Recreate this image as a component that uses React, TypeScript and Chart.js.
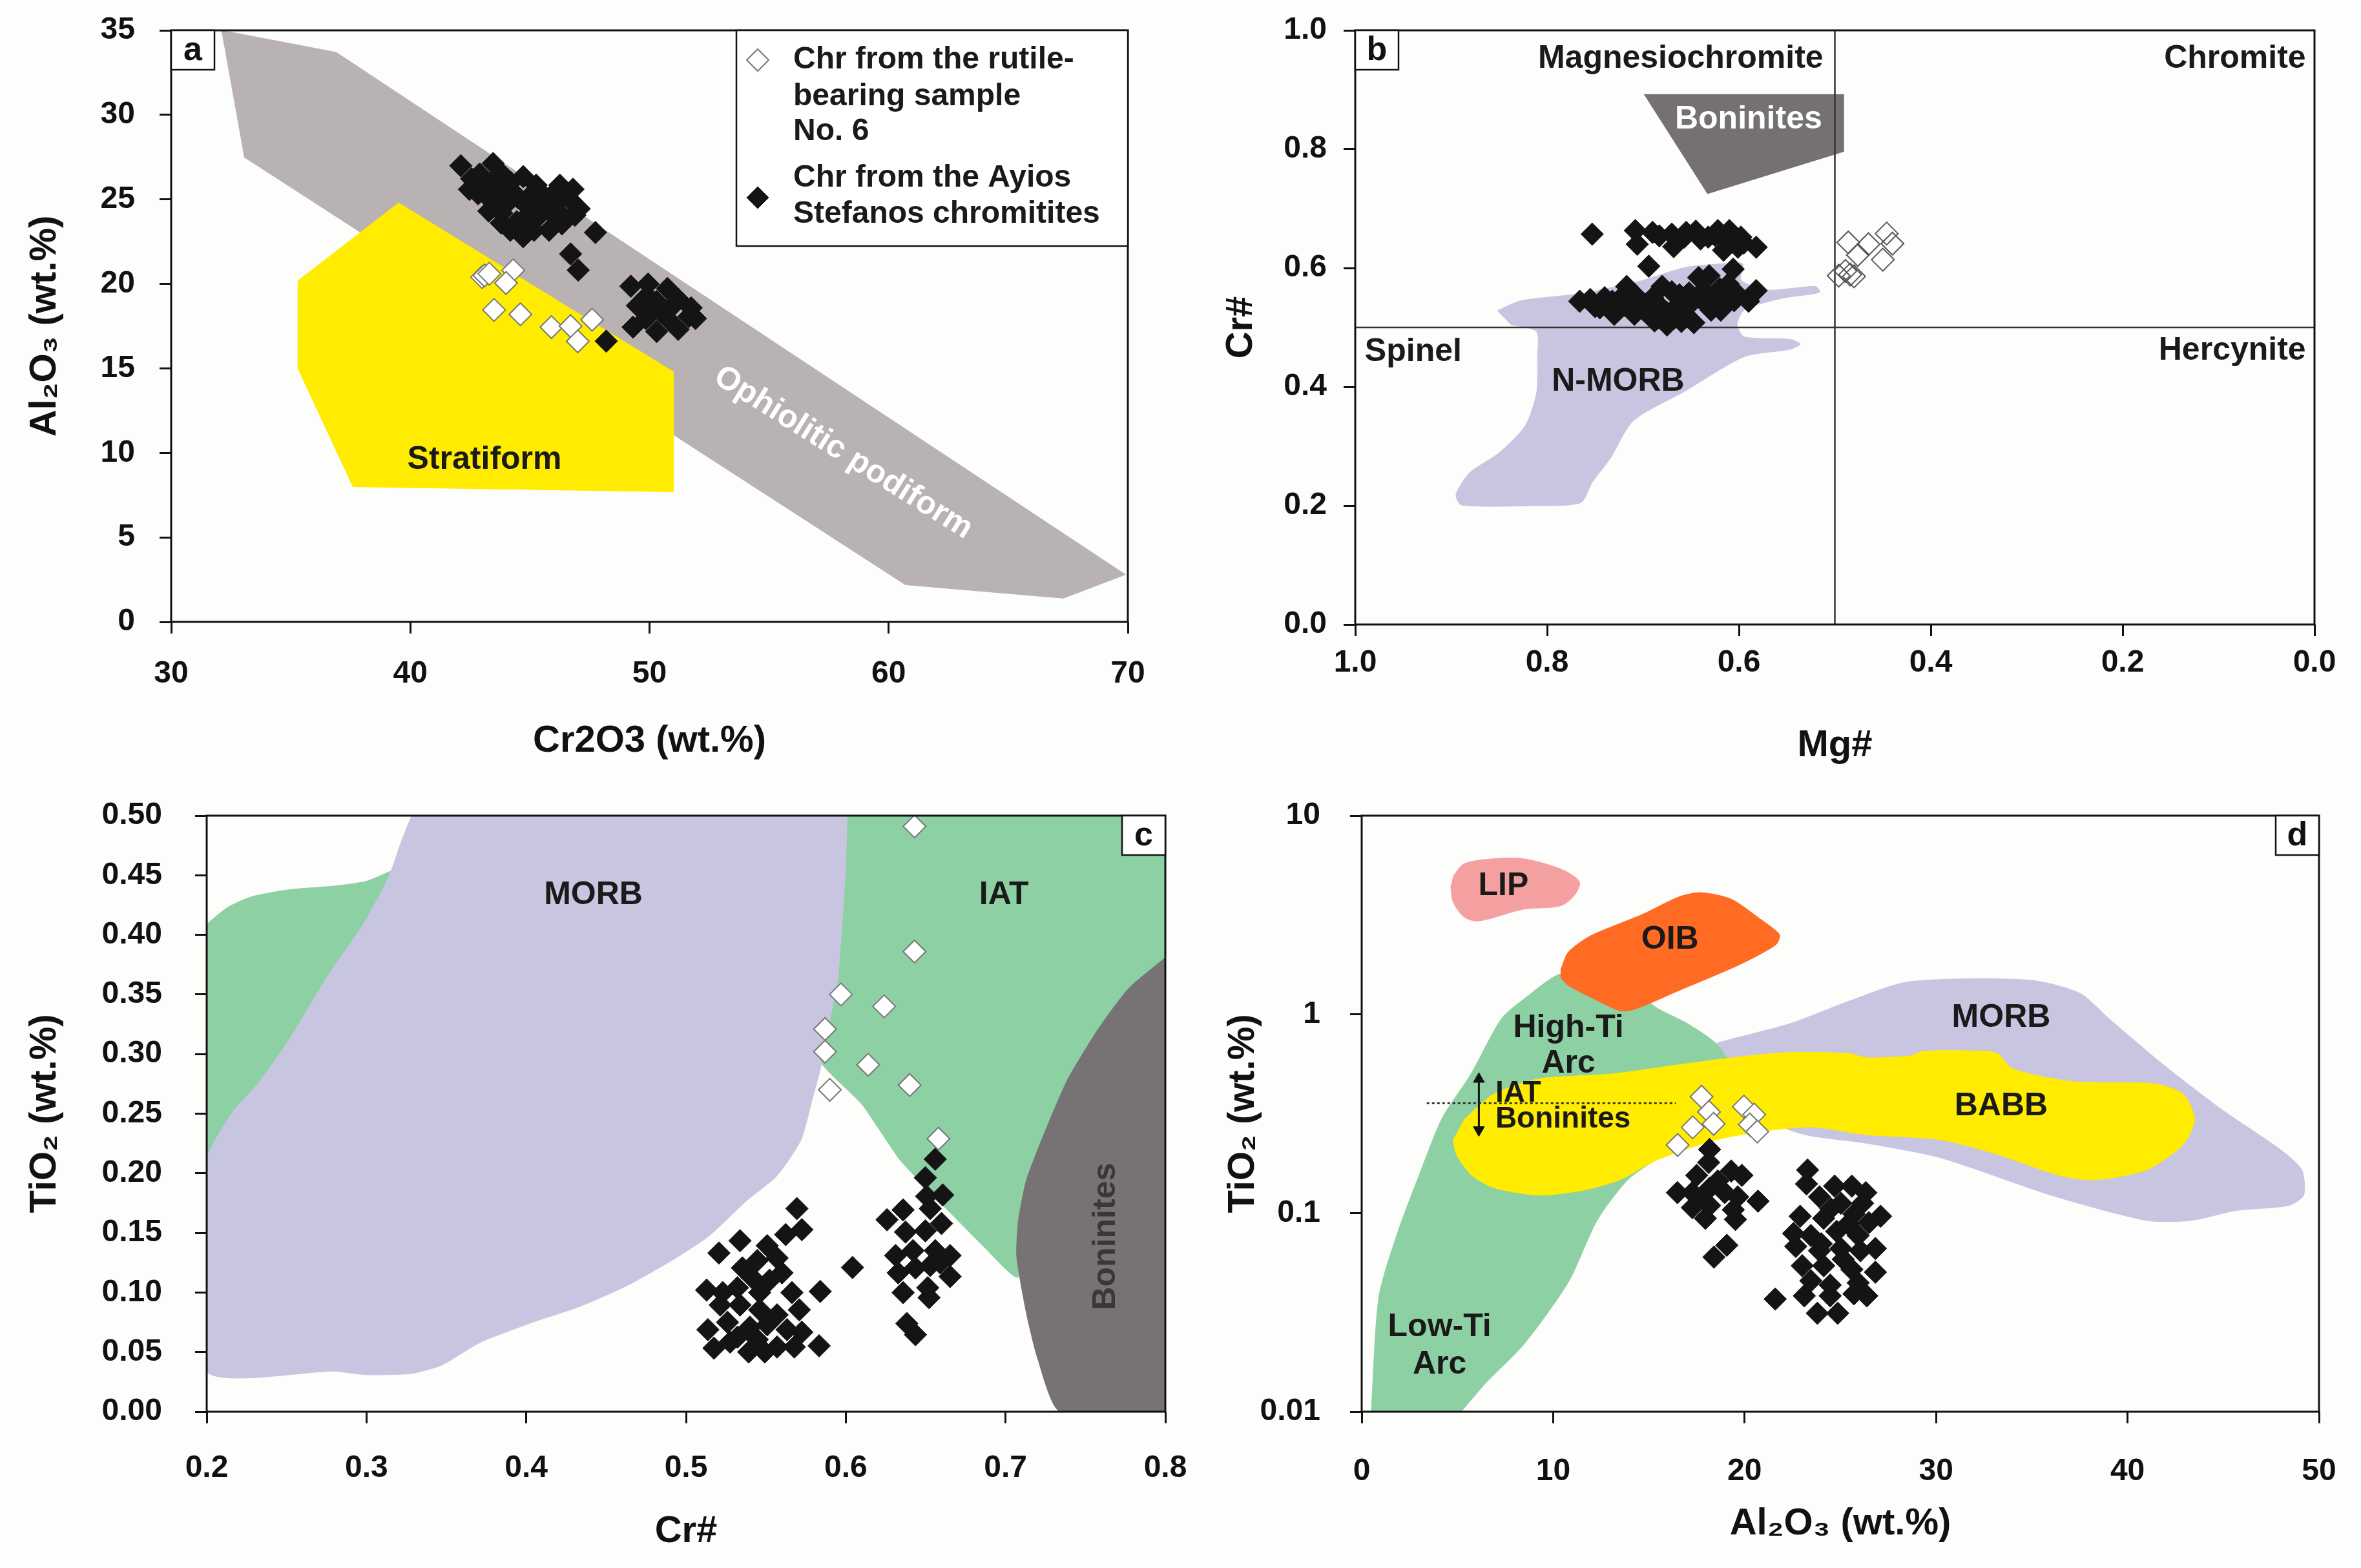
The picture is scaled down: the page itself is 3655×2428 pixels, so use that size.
import React, { useEffect, useRef } from 'react';
import { Chart, registerables } from 'chart.js';

Chart.register(...registerables);

const FONT = "'Liberation Sans', Arial, Helvetica, sans-serif";

function hasFont(name: string): boolean {
  try {
    const c = document.createElement('canvas').getContext('2d');
    if (!c) return false;
    const sample = 'abcdefghij0123456789.';
    c.font = '50px monospace';
    const a = c.measureText(sample).width;
    c.font = `50px "${name}", monospace`;
    const b = c.measureText(sample).width;
    return Math.abs(a - b) > 0.5;
  } catch (e) {
    return false;
  }
}
const NARROW_OK = hasFont('Liberation Sans Narrow');
const TICK_FONT = NARROW_OK
  ? { family: "'Liberation Sans Narrow', 'Liberation Sans', Arial, sans-serif", size: 55, weight: 'bold' }
  : { family: FONT, size: 48, weight: 'bold' };

type Pt = [number, number];

// ---------------- Panel a: Cr2O3 vs Al2O3 ----------------
const aTicksX = [30, 40, 50, 60, 70];
const aTicksY = [0, 5, 10, 15, 20, 25, 30, 35];
const aOphiolitic: Pt[] = [[32.1, 35], [36.9, 33.7], [69.9, 2.8], [67.3, 1.4], [60.7, 2.2], [33.05, 27.5]];
const aStratiform: Pt[] = [[39.5, 24.8], [51.0, 14.8], [51.0, 7.7], [37.6, 8.0], [35.3, 15.0], [35.3, 20.2]];
const aRutile: Pt[] = [
  [43.0, 20.4], [43.1, 20.5], [43.3, 20.6], [44.3, 20.8], [44.0, 20.05], [43.5, 18.46],
  [44.6, 18.2], [45.9, 17.44], [46.7, 17.5], [47.6, 17.88], [47.0, 16.6],
];
const aAyios: Pt[] = [
  [42.11, 26.99], [42.56, 26.22], [43.46, 27.12], [43.1, 25.84], [42.83, 25.33], [43.64, 24.95],
  [44.18, 25.59], [44.72, 26.35], [44.63, 24.95], [45.26, 25.84], [45.44, 24.57], [45.98, 25.33],
  [46.25, 25.84], [46.16, 24.32], [46.7, 24.95], [46.88, 24.06], [47.06, 24.44], [44.45, 23.68],
  [44.18, 23.17], [44.72, 22.79], [45.17, 23.17], [45.8, 23.17], [46.34, 23.55], [43.82, 24.19],
  [43.28, 24.31], [42.47, 25.59], [45.8, 24.82], [44.9, 24.06], [43.9, 26.4], [45.0, 25.2],
  [42.9, 26.5], [43.6, 26.3], [44.2, 26.0], [43.0, 25.9], [43.7, 25.5], [44.5, 25.1],
  [45.1, 24.5], [45.6, 25.2], [44.0, 24.7], [46.4, 25.2], [45.3, 23.9], [43.8, 23.6],
  [44.9, 23.4], [45.9, 24.2], [46.8, 25.6], [43.4, 24.9],
  [47.74, 23.04], [46.7, 21.77], [47.02, 20.81], [48.19, 16.61],
  [49.22, 19.86], [49.94, 19.99], [50.75, 19.73], [49.49, 18.71], [50.3, 18.96], [51.2, 19.09],
  [51.74, 18.58], [49.85, 17.95], [50.75, 17.95], [51.65, 18.07], [49.31, 17.44], [50.3, 17.18],
  [51.2, 17.31], [51.92, 17.95], [50.48, 18.33], [50.0, 18.5], [50.9, 18.6], [49.9, 19.3],
];

// ---------------- Panel b: Mg# vs Cr# ----------------
const bTicksX = [0, 0.2, 0.4, 0.6, 0.8, 1.0];
const bTicksY = [0, 0.2, 0.4, 0.6, 0.8, 1.0];
const bBoninites: Pt[] = [[0.699, 0.892], [0.491, 0.892], [0.491, 0.796], [0.633, 0.725]];
const bNMorb: Pt[] = [
  [0.852, 0.528], [0.827, 0.545], [0.765, 0.557], [0.703, 0.578], [0.656, 0.601], [0.617, 0.607],
  [0.596, 0.607], [0.598, 0.58], [0.571, 0.563], [0.52, 0.569], [0.516, 0.559], [0.555, 0.549],
  [0.594, 0.53], [0.602, 0.505], [0.594, 0.484], [0.547, 0.48], [0.536, 0.472], [0.547, 0.463],
  [0.594, 0.451], [0.656, 0.393], [0.71, 0.343], [0.734, 0.28], [0.753, 0.239], [0.765, 0.205],
  [0.811, 0.2], [0.889, 0.201], [0.895, 0.218], [0.881, 0.255], [0.85, 0.289], [0.823, 0.334],
  [0.811, 0.389], [0.81, 0.451], [0.811, 0.493], [0.838, 0.505],
];
const bDividerV: Pt[] = [[0.5, 0], [0.5, 1]];
const bDividerH: Pt[] = [[0, 0.5], [1, 0.5]];
const bRutile: Pt[] = [
  [0.486, 0.643], [0.465, 0.64], [0.446, 0.658], [0.44, 0.641], [0.476, 0.622],
  [0.45, 0.614], [0.496, 0.587], [0.489, 0.595], [0.484, 0.589], [0.48, 0.586],
];
const bAyios: Pt[] = [
  [0.753, 0.657], [0.708, 0.663], [0.706, 0.64], [0.683, 0.654], [0.67, 0.657], [0.668, 0.636],
  [0.645, 0.662], [0.632, 0.652], [0.622, 0.663], [0.61, 0.663], [0.616, 0.63], [0.598, 0.652],
  [0.582, 0.635], [0.694, 0.603], [0.606, 0.598], [0.657, 0.652], [0.64, 0.649], [0.601, 0.635],
  [0.69, 0.66], [0.655, 0.66], [0.625, 0.655], [0.615, 0.648], [0.595, 0.642],
  [0.766, 0.544], [0.755, 0.547], [0.745, 0.533], [0.732, 0.544], [0.73, 0.522], [0.719, 0.537],
  [0.717, 0.569], [0.706, 0.551], [0.699, 0.54], [0.694, 0.522], [0.688, 0.511], [0.683, 0.537],
  [0.68, 0.569], [0.675, 0.504], [0.668, 0.515], [0.662, 0.555], [0.652, 0.537], [0.652, 0.558],
  [0.647, 0.508], [0.642, 0.584], [0.637, 0.562], [0.631, 0.587], [0.629, 0.529], [0.619, 0.529],
  [0.616, 0.544], [0.611, 0.573], [0.601, 0.555], [0.59, 0.544], [0.582, 0.562], [0.709, 0.522],
  [0.657, 0.522], [0.75, 0.535], [0.74, 0.55], [0.725, 0.53], [0.71, 0.545], [0.7, 0.53],
  [0.69, 0.55], [0.675, 0.525], [0.665, 0.535], [0.66, 0.545], [0.645, 0.55], [0.635, 0.54],
  [0.625, 0.555], [0.62, 0.565], [0.605, 0.545], [0.67, 0.56], [0.72, 0.555], [0.685, 0.515],
  [0.66, 0.51],
];

// ---------------- Panel c: Cr# vs TiO2 ----------------
const cTicksX = [0.2, 0.3, 0.4, 0.5, 0.6, 0.7, 0.8];
const cTicksY = [0, 0.05, 0.1, 0.15, 0.2, 0.25, 0.3, 0.35, 0.4, 0.45, 0.5];
const cIatLeft: Pt[] = [
  [0.2, 0.409], [0.213, 0.423], [0.228, 0.432], [0.252, 0.438], [0.28, 0.441], [0.3, 0.445],
  [0.318, 0.455], [0.33, 0.46], [0.31, 0.3], [0.2, 0.2],
];
const cMorb: Pt[] = [
  [0.328, 0.5], [0.601, 0.5], [0.6, 0.449], [0.5955, 0.364], [0.588, 0.313], [0.584, 0.287],
  [0.579, 0.262], [0.572, 0.228], [0.557, 0.198], [0.538, 0.177], [0.514, 0.147], [0.49, 0.126],
  [0.462, 0.105], [0.433, 0.088], [0.404, 0.075], [0.371, 0.058], [0.347, 0.039], [0.328, 0.032],
  [0.299, 0.031], [0.28, 0.034], [0.2, 0.034], [0.2, 0.211], [0.216, 0.251], [0.232, 0.275],
  [0.252, 0.313], [0.275, 0.364], [0.299, 0.411], [0.314, 0.449], [0.323, 0.483],
];
const cIat: Pt[] = [
  [0.601, 0.5], [0.8, 0.5], [0.8, 0.381], [0.75, 0.3], [0.708, 0.113], [0.686, 0.139],
  [0.658, 0.177], [0.634, 0.211], [0.61, 0.258], [0.585, 0.292], [0.588, 0.313], [0.5955, 0.364],
  [0.6, 0.449],
];
const cBoninites: Pt[] = [
  [0.8, 0.381], [0.777, 0.355], [0.758, 0.321], [0.739, 0.279], [0.725, 0.236], [0.713, 0.194],
  [0.708, 0.16], [0.707, 0.13], [0.713, 0.083], [0.72, 0.045], [0.734, 0], [0.8, 0],
];
const cRutile: Pt[] = [
  [0.643, 0.491], [0.643, 0.386], [0.597, 0.35], [0.624, 0.34], [0.587, 0.321],
  [0.587, 0.302], [0.614, 0.291], [0.64, 0.274], [0.59, 0.27], [0.658, 0.229],
];
const cAyios: Pt[] = [
  [0.5694, 0.1704], [0.5725, 0.1527], [0.5624, 0.1486], [0.5338, 0.1434], [0.5206, 0.1331],
  [0.5508, 0.1393], [0.557, 0.1289], [0.5446, 0.1268], [0.5353, 0.1206], [0.5601, 0.1165],
  [0.5415, 0.1123], [0.5523, 0.1103], [0.5129, 0.102], [0.523, 0.0999], [0.5322, 0.104],
  [0.5461, 0.0999], [0.5663, 0.0999], [0.5709, 0.0854], [0.584, 0.1009], [0.5214, 0.0895],
  [0.5338, 0.0895], [0.5461, 0.0854], [0.557, 0.0812], [0.5137, 0.0688], [0.526, 0.075],
  [0.54, 0.0709], [0.5508, 0.0729], [0.5632, 0.0688], [0.5725, 0.0667], [0.5175, 0.0533],
  [0.5276, 0.0584], [0.5392, 0.0501], [0.5493, 0.0501], [0.557, 0.0543], [0.5678, 0.0543],
  [0.5833, 0.0553], [0.5322, 0.0626], [0.5446, 0.0605], [0.6042, 0.121],
  [0.656, 0.2118], [0.6498, 0.1963], [0.6607, 0.1818], [0.6506, 0.1807], [0.6359, 0.1693],
  [0.6258, 0.161], [0.6529, 0.1704], [0.6599, 0.1579], [0.6374, 0.1507], [0.6498, 0.1517],
  [0.6312, 0.131], [0.6421, 0.1351], [0.656, 0.1351], [0.6653, 0.131], [0.6328, 0.1165],
  [0.6436, 0.1206], [0.6529, 0.1227], [0.6653, 0.1134], [0.6359, 0.0999], [0.6513, 0.104],
  [0.6521, 0.0957], [0.6382, 0.074], [0.6436, 0.0646], [0.6591, 0.1248],
];

// ---------------- Panel d: Al2O3 vs TiO2 (log) ----------------
const dTicksX = [0, 10, 20, 30, 40, 50];
const dTicksY = [0.01, 0.1, 1, 10];
const dGreenArc: Pt[] = [
  [0.5, 0.01], [0.9, 0.038], [1.9, 0.081], [3.0, 0.155], [4.2, 0.3], [5.7, 0.5], [7.3, 0.95],
  [8.5, 1.2], [10.4, 1.6], [13, 1.6], [15.4, 1.08], [17, 0.9], [18.5, 0.714], [19.2, 0.55],
  [18, 0.3], [15.5, 0.19], [13.9, 0.147], [12.3, 0.092], [10.8, 0.045], [8.5, 0.022],
  [6.5, 0.014], [5.2, 0.01],
];
const dMorb: Pt[] = [
  [15.4, 0.565], [18.5, 0.714], [22.4, 0.9], [25.5, 1.17], [28.6, 1.46], [34.8, 1.49],
  [37.5, 1.28], [39.0, 0.957], [41.8, 0.565], [44.9, 0.333], [48.0, 0.208], [49.1, 0.165],
  [49.2, 0.123], [48.4, 0.109], [45.7, 0.103], [43.3, 0.0917], [41.0, 0.0917], [36.0, 0.123],
  [30.2, 0.19], [26.3, 0.225], [23, 0.25], [19, 0.35],
];
const dBabb: Pt[] = [
  [4.77, 0.234], [4.96, 0.196], [5.74, 0.155], [6.9, 0.134], [9.22, 0.123], [11.55, 0.13],
  [13.49, 0.147], [15.43, 0.185], [18.53, 0.234], [21.6, 0.263], [23.6, 0.271], [26.3, 0.248],
  [30.2, 0.234], [33.3, 0.196], [36.4, 0.155], [38.3, 0.147], [41.0, 0.165], [42.9, 0.221],
  [43.5, 0.296], [42.9, 0.397], [41.4, 0.447], [37.1, 0.459], [34.0, 0.532], [33.2, 0.635],
  [32.4, 0.653], [29.4, 0.653], [28.6, 0.617], [26.3, 0.605], [25.5, 0.635], [22.4, 0.643],
  [20.1, 0.617], [16.98, 0.565], [13.1, 0.502], [9.22, 0.473], [6.9, 0.397], [5.35, 0.296],
];
const dOib: Pt[] = [
  [10.39, 1.67], [10.78, 2.05], [11.94, 2.48], [14.65, 3.18], [16.59, 3.91], [17.75, 4.1],
  [19.3, 3.8], [20.85, 3.0], [21.82, 2.52], [21.63, 2.24], [19.69, 1.77], [16.59, 1.32],
  [14.26, 1.06], [13.48, 1.045], [12.33, 1.17], [10.78, 1.4], [10.39, 1.53],
];
const dLip: Pt[] = [
  [4.77, 4.94], [5.35, 5.73], [6.9, 6.07], [8.45, 6.07], [10.39, 5.39], [11.36, 4.67],
  [11.16, 4.03], [10.39, 3.52], [8.45, 3.38], [6.12, 2.95], [5.35, 3.09], [4.77, 3.69], [4.65, 4.4],
];
const dDottedLine: Pt[] = [[3.4, 0.357], [16.4, 0.357]];
const dArrowShaft: Pt[] = [[6.12, 0.25], [6.12, 0.49]];
const dArrowUp: Pt[] = [[6.12, 0.472]];
const dArrowDown: Pt[] = [[6.12, 0.262]];
const dRutile: Pt[] = [
  [17.75, 0.385], [18.14, 0.323], [17.29, 0.27], [18.38, 0.281], [16.5, 0.22],
  [19.96, 0.343], [20.5, 0.313], [20.27, 0.279], [20.66, 0.257],
];
const dAyios: Pt[] = [
  [18.17, 0.2088], [18.12, 0.1797], [19.3, 0.1627], [19.86, 0.1547], [17.5, 0.1547], [16.49, 0.1267],
  [17.27, 0.1267], [18.17, 0.1332], [18.96, 0.1267], [19.64, 0.1206], [20.7, 0.1147], [17.27, 0.1065],
  [18.17, 0.1091], [19.41, 0.1038], [17.95, 0.094], [19.52, 0.0928], [19.07, 0.0688], [18.4, 0.06],
  [18.6, 0.145], [17.8, 0.118],
  [23.29, 0.1647], [23.23, 0.14], [24.7, 0.1366], [25.6, 0.1366], [26.33, 0.1267], [23.91, 0.1206],
  [25.03, 0.1119], [27.1, 0.0963], [22.9, 0.0963], [24.13, 0.094], [25.71, 0.0988], [26.49, 0.0894],
  [22.56, 0.0789], [24.81, 0.0809], [23.46, 0.077], [25.93, 0.077], [26.83, 0.0663], [22.67, 0.0679],
  [25.03, 0.0663], [23.01, 0.0543], [24.13, 0.0543], [25.15, 0.0585], [26.83, 0.0504], [23.46, 0.0456],
  [24.47, 0.0434], [25.93, 0.0445], [26.38, 0.0383], [23.12, 0.0383], [24.47, 0.0383], [25.71, 0.0392],
  [21.6, 0.0369], [23.8, 0.0313], [24.86, 0.0313], [26.05, 0.0646], [23.91, 0.0646], [26.16, 0.1119],
  [24.5, 0.105], [25.4, 0.088], [24.0, 0.07], [25.6, 0.052],
];

// ---------------- helpers ----------------
const C = {
  ink: '#141414',
  gray: '#b8b2b3',
  yellow: '#ffec00',
  lavender: '#c8c5e1',
  green: '#8dd0a4',
  darkGray: '#777273',
  lip: '#f5a0a0',
  oib: '#ff6b22',
};

const toXY = (arr: Pt[]) => arr.map(([x, y]) => ({ x, y }));

function polygon(label: string, pts: Pt[], color: string, order: number, tension = 0) {
  return {
    type: 'line', label, data: toXY(pts), showLine: true, fill: 'shape',
    backgroundColor: color, borderColor: color, borderWidth: 1, pointRadius: 0,
    tension, order,
  };
}
function markers(label: string, pts: Pt[], fill: string, stroke: string, bw: number, order: number) {
  return {
    type: 'scatter', label, data: toXY(pts), pointStyle: 'rectRot', pointRadius: 17.5,
    backgroundColor: fill, borderColor: stroke, borderWidth: bw, order,
  };
}
function segment(label: string, pts: Pt[], color: string, width: number, order: number, dash: number[] = []) {
  return {
    type: 'line', label, data: toXY(pts), showLine: true, fill: false, borderColor: color,
    borderWidth: width, borderDash: dash, pointRadius: 0, order,
  };
}

interface AxisOpt {
  min: number; max: number; ticks: number[]; fmt: (v: number) => string; title: string;
  tickPad: number; titlePad: number; size: number; horizontal: boolean; reverse?: boolean; log?: boolean;
}
function axis(o: AxisOpt) {
  // label line height differs by font size; keep label centre where it was measured
  const centreShift = (TICK_FONT.size - 48) * 0.6;
  return {
    type: o.log ? 'logarithmic' : 'linear',
    position: o.horizontal ? 'bottom' : 'left',
    min: o.min, max: o.max, reverse: !!o.reverse,
    afterBuildTicks: (s: any) => { s.ticks = o.ticks.map((v) => ({ value: v })); },
    afterFit: (s: any) => {
      if (o.horizontal) s.height = o.size; else s.width = o.size;
      s.paddingLeft = 0; s.paddingRight = 0; s.paddingTop = 0; s.paddingBottom = 0;
    },
    ticks: {
      callback: (v: any) => o.fmt(Number(v)),
      padding: o.horizontal ? Math.max(0, o.tickPad - centreShift) : o.tickPad,
      color: '#111',
      font: TICK_FONT, autoSkip: false, maxRotation: 0, minRotation: 0,
    },
    grid: { display: true, drawOnChartArea: false, drawTicks: true, tickLength: 18, tickWidth: 3, color: '#111', lineWidth: 3 },
    border: { display: false },
    title: {
      display: true, text: o.title, color: '#111',
      font: { family: FONT, size: 58, weight: 'bold', lineHeight: 1.2 },
      padding: { top: o.titlePad, bottom: o.titlePad },
    },
  };
}

interface TextItem { text: string; x: number; y: number; color?: string; size?: number; align?: string; rotate?: number; weight?: string }

function diamond(ctx: CanvasRenderingContext2D, x: number, y: number, r: number, fill: string, stroke: string, lw: number) {
  ctx.beginPath();
  ctx.moveTo(x, y - r); ctx.lineTo(x + r, y); ctx.lineTo(x, y + r); ctx.lineTo(x - r, y); ctx.closePath();
  ctx.fillStyle = fill; ctx.fill();
  ctx.lineWidth = lw; ctx.strokeStyle = stroke; ctx.stroke();
}

const decorPlugin = {
  id: 'decor',
  afterDatasetsDraw(chart: any, _args: any, opts: any) {
    const { ctx, chartArea: ca, scales } = chart;
    const xs = scales.x; const ys = scales.y;
    ctx.save();
    for (const t of (opts.texts || []) as TextItem[]) {
      const px = xs.getPixelForValue(t.x); const py = ys.getPixelForValue(t.y);
      ctx.save();
      ctx.translate(px, py);
      if (t.rotate) ctx.rotate((t.rotate * Math.PI) / 180);
      ctx.font = `${t.weight || 'bold'} ${t.size || 50}px ${FONT}`;
      ctx.fillStyle = t.color || '#1a1a1a';
      ctx.textAlign = (t.align || 'center') as CanvasTextAlign;
      ctx.textBaseline = 'middle';
      ctx.fillText(t.text, 0, 0);
      ctx.restore();
    }
    // frame
    ctx.lineWidth = 3; ctx.strokeStyle = '#111';
    ctx.strokeRect(ca.left, ca.top, ca.right - ca.left, ca.bottom - ca.top);
    // legend (panel a)
    if (opts.legend) {
      const lw = 606; const lh = 334;
      const lx = ca.right - lw; const ly = ca.top;
      ctx.fillStyle = '#fff'; ctx.fillRect(lx, ly, lw, lh);
      ctx.lineWidth = 2.5; ctx.strokeStyle = '#111'; ctx.strokeRect(lx, ly, lw, lh);
      diamond(ctx, lx + 33, ly + 46, 17, '#fff', '#777', 2);
      diamond(ctx, lx + 33, ly + 259, 17, C.ink, C.ink, 1);
      ctx.fillStyle = '#1a1a1a';
      ctx.font = `bold 48px ${FONT}`;
      ctx.textAlign = 'left'; ctx.textBaseline = 'middle';
      const lines = opts.legend as string[];
      const ys2 = [46, 103, 157, 229, 285];
      lines.forEach((s, i) => ctx.fillText(s, lx + 88, ly + ys2[i]));
    }
    // panel letter
    if (opts.letter) {
      const w = 67; const h = 61;
      const bx = opts.letterSide === 'right' ? ca.right - w : ca.left;
      const by = ca.top;
      ctx.fillStyle = '#fff'; ctx.fillRect(bx, by, w, h);
      ctx.lineWidth = 2.5; ctx.strokeStyle = '#111'; ctx.strokeRect(bx, by, w, h);
      ctx.fillStyle = '#111'; ctx.font = `bold 52px ${FONT}`;
      ctx.textAlign = 'center'; ctx.textBaseline = 'middle';
      ctx.fillText(opts.letter, bx + w / 2, by + h / 2 + 1);
    }
    ctx.restore();
  },
};

interface Geo { width: number; height: number; padTop: number; padRight: number; yW: number; xH: number }

function baseOptions(g: Geo, x: any, y: any, decor: any) {
  return {
    responsive: false, animation: false, devicePixelRatio: 1, events: [],
    layout: { padding: { top: g.padTop, right: g.padRight, left: 0, bottom: 0 } },
    scales: { x, y },
    plugins: { legend: { display: false }, tooltip: { enabled: false }, decor },
  };
}

// ---------------- panel configs ----------------
const geoA: Geo = { width: 1800, height: 1220, padTop: 47, padRight: 54, yW: 265, xH: 257 };
const geoB: Geo = { width: 1825, height: 1220, padTop: 47, padRight: 72, yW: 268, xH: 253 };
const geoC: Geo = { width: 1840, height: 1208, padTop: 43, padRight: 36, yW: 320, xH: 242 };
const geoD: Geo = { width: 1815, height: 1208, padTop: 43, padRight: 65, yW: 268, xH: 242 };

function makeA() {
  return {
    type: 'scatter',
    data: {
      datasets: [
        markers('Chr from the rutile-bearing sample No. 6', aRutile, '#fff', '#777', 2, 0),
        markers('Chr from the Ayios Stefanos chromitites', aAyios, C.ink, C.ink, 1, 1),
        polygon('Stratiform', aStratiform, C.yellow, 9),
        polygon('Ophiolitic podiform', aOphiolitic, C.gray, 10),
      ],
    },
    options: baseOptions(
      geoA,
      axis({ min: 30, max: 70, ticks: aTicksX, fmt: (v) => String(v), title: 'Cr2O3 (wt.%)', tickPad: 34, titlePad: 37, size: geoA.xH, horizontal: true }),
      axis({ min: 0, max: 35, ticks: aTicksY, fmt: (v) => String(v), title: 'Al₂O₃ (wt.%)', tickPad: 38, titlePad: 35, size: geoA.yW, horizontal: false }),
      {
        texts: [
          { text: 'Stratiform', x: 43.1, y: 9.6 },
          { text: 'Ophiolitic podiform', x: 58.1, y: 10.0, color: '#ffffff', rotate: 32 },
        ],
        legend: ['Chr from the rutile-', 'bearing sample', 'No. 6', 'Chr from the Ayios', 'Stefanos chromitites'],
        letter: 'a', letterSide: 'left',
      },
    ),
    plugins: [decorPlugin],
  };
}

function makeB() {
  return {
    type: 'scatter',
    data: {
      datasets: [
        markers('Chr from the rutile-bearing sample No. 6', bRutile, 'rgba(255,255,255,0)', '#555', 2, 0),
        markers('Chr from the Ayios Stefanos chromitites', bAyios, C.ink, C.ink, 1, 1),
        segment('Mg# 0.5', bDividerV, '#333', 2.5, 3),
        segment('Cr# 0.5', bDividerH, '#333', 2.5, 3),
        polygon('Boninites', bBoninites, '#757071', 9),
        polygon('N-MORB', bNMorb, C.lavender, 10, 0.25),
      ],
    },
    options: baseOptions(
      geoB,
      axis({ min: 0, max: 1, ticks: bTicksX, fmt: (v) => v.toFixed(1), title: 'Mg#', tickPad: 13, titlePad: 30, size: geoB.xH, horizontal: true, reverse: true }),
      axis({ min: 0, max: 1, ticks: bTicksY, fmt: (v) => v.toFixed(1), title: 'Cr#', tickPad: 26, titlePad: 57, size: geoB.yW, horizontal: false }),
      {
        texts: [
          { text: 'Magnesiochromite', x: 0.512, y: 0.952, align: 'right' },
          { text: 'Chromite', x: 0.009, y: 0.952, align: 'right' },
          { text: 'Spinel', x: 0.99, y: 0.458, align: 'left' },
          { text: 'Hercynite', x: 0.009, y: 0.461, align: 'right' },
          { text: 'N-MORB', x: 0.726, y: 0.409 },
          { text: 'Boninites', x: 0.59, y: 0.85, color: '#ffffff' },
        ],
        letter: 'b', letterSide: 'left',
      },
    ),
    plugins: [decorPlugin],
  };
}

function makeC() {
  return {
    type: 'scatter',
    data: {
      datasets: [
        markers('Chr from the rutile-bearing sample No. 6', cRutile, '#fff', '#777', 2, 0),
        markers('Chr from the Ayios Stefanos chromitites', cAyios, C.ink, C.ink, 1, 1),
        polygon('Boninites', cBoninites, C.darkGray, 7, 0.2),
        polygon('IAT', cIat, C.green, 8, 0.15),
        polygon('MORB', cMorb, C.lavender, 9, 0.2),
        polygon('IAT (low Cr#)', cIatLeft, C.green, 10, 0.2),
      ],
    },
    options: baseOptions(
      geoC,
      axis({ min: 0.2, max: 0.8, ticks: cTicksX, fmt: (v) => v.toFixed(1), title: 'Cr#', tickPad: 41, titlePad: 21, size: geoC.xH, horizontal: true }),
      axis({ min: 0, max: 0.5, ticks: cTicksY, fmt: (v) => v.toFixed(2), title: 'TiO₂ (wt.%)', tickPad: 51, titlePad: 35, size: geoC.yW, horizontal: false }),
      {
        texts: [
          { text: 'MORB', x: 0.442, y: 0.433 },
          { text: 'IAT', x: 0.699, y: 0.433 },
          { text: 'Boninites', x: 0.763, y: 0.147, rotate: -90, color: '#383838' },
        ],
        letter: 'c', letterSide: 'right',
      },
    ),
    plugins: [decorPlugin],
  };
}

function makeD() {
  const arrowHead = (label: string, pts: Pt[], rot: number) => ({
    type: 'scatter', label, data: toXY(pts), pointStyle: 'triangle', pointRadius: 10,
    rotation: rot, backgroundColor: '#111', borderColor: '#111', borderWidth: 1, order: 4,
  });
  return {
    type: 'scatter',
    data: {
      datasets: [
        markers('Chr from the rutile-bearing sample No. 6', dRutile, '#fff', '#777', 2, 0),
        markers('Chr from the Ayios Stefanos chromitites', dAyios, C.ink, C.ink, 1, 1),
        segment('IAT/Boninites boundary', dDottedLine, '#222', 2.5, 5, [4, 4]),
        segment('arrow', dArrowShaft, '#111', 3, 5),
        arrowHead('arrow up', dArrowUp, 0),
        arrowHead('arrow down', dArrowDown, 180),
        polygon('LIP', dLip, C.lip, 10, 0.3),
        polygon('OIB', dOib, C.oib, 11, 0.25),
        polygon('BABB', dBabb, C.yellow, 12, 0.25),
        polygon('High-Ti / Low-Ti Arc', dGreenArc, C.green, 13, 0.25),
        polygon('MORB', dMorb, C.lavender, 14, 0.25),
      ],
    },
    options: baseOptions(
      geoD,
      axis({ min: 0, max: 50, ticks: dTicksX, fmt: (v) => String(v), title: 'Al₂O₃ (wt.%)', tickPad: 46, titlePad: 33, size: geoD.xH, horizontal: true }),
      axis({ min: 0.01, max: 10, ticks: dTicksY, fmt: (v) => String(v), title: 'TiO₂ (wt.%)', tickPad: 46, titlePad: 50, size: geoD.yW, horizontal: false, log: true }),
      {
        texts: [
          { text: 'LIP', x: 7.4, y: 4.4 },
          { text: 'OIB', x: 16.1, y: 2.38 },
          { text: 'High-Ti', x: 10.8, y: 0.85 },
          { text: 'Arc', x: 10.8, y: 0.565 },
          { text: 'MORB', x: 33.4, y: 0.957 },
          { text: 'BABB', x: 33.4, y: 0.343 },
          { text: 'IAT', x: 6.98, y: 0.4, align: 'left', size: 46 },
          { text: 'Boninites', x: 6.98, y: 0.296, align: 'left', size: 46 },
          { text: 'Low-Ti', x: 4.07, y: 0.0267 },
          { text: 'Arc', x: 4.07, y: 0.0172 },
        ],
        letter: 'd', letterSide: 'right',
      },
    ),
    plugins: [decorPlugin],
  };
}

interface Box { left: number; top: number; width: number; height: number }

function ChartPanel({ box, make }: { box: Box; make: () => any }) {
  const ref = useRef<HTMLCanvasElement | null>(null);
  useEffect(() => {
    if (!ref.current) return;
    const chart = new Chart(ref.current, make());
    return () => chart.destroy();
  }, [make]);
  return (
    <canvas
      ref={ref}
      width={box.width}
      height={box.height}
      style={{ position: 'absolute', left: box.left, top: box.top, width: box.width, height: box.height }}
    />
  );
}

export default function App() {
  return (
    <div style={{ position: 'absolute', left: 0, top: 0, width: 3655, height: 2428, background: '#fdfdfc', overflow: 'hidden' }}>
      <ChartPanel box={{ left: 0, top: 0, width: geoA.width, height: geoA.height }} make={makeA} />
      <ChartPanel box={{ left: 1830, top: 0, width: geoB.width, height: geoB.height }} make={makeB} />
      <ChartPanel box={{ left: 0, top: 1220, width: geoC.width, height: geoC.height }} make={makeC} />
      <ChartPanel box={{ left: 1840, top: 1220, width: geoD.width, height: geoD.height }} make={makeD} />
    </div>
  );
}
